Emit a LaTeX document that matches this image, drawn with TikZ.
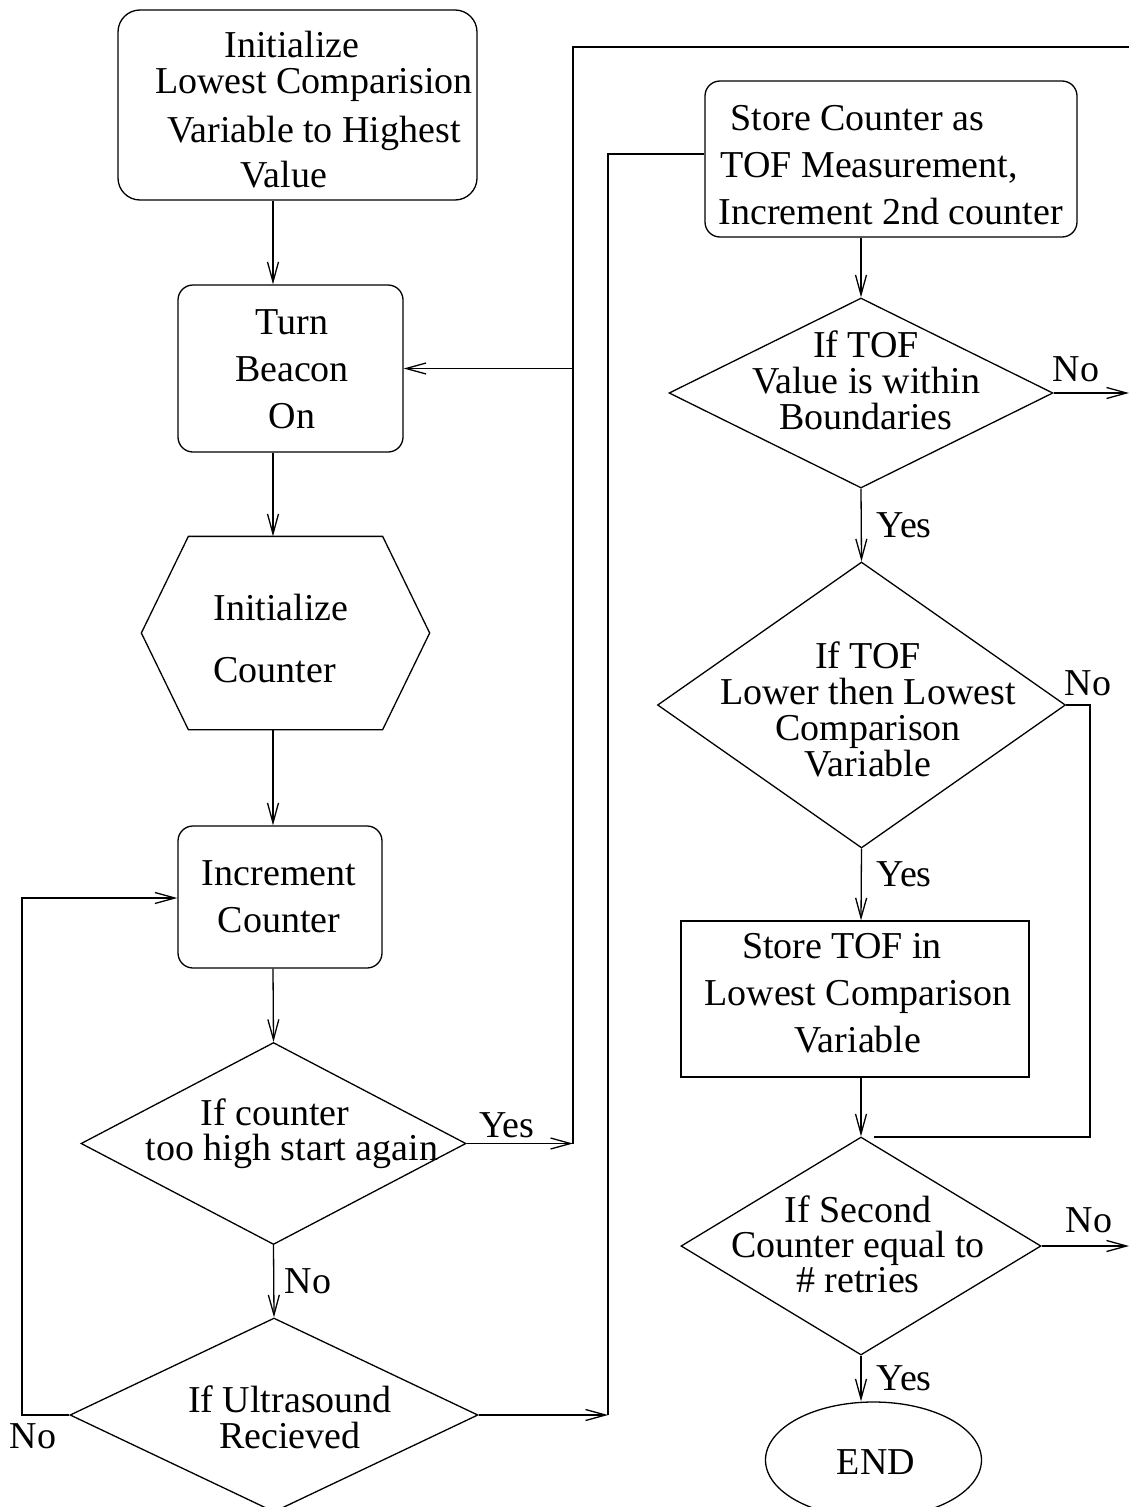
\documentclass[tikz,border=0pt]{standalone}
\usepackage{fontspec}
\setmainfont{Liberation Serif}
\usetikzlibrary{arrows.meta,shapes.geometric}
\begin{document}
\begin{tikzpicture}[x=1pt,y=-1pt,line width=1.3pt,
  >={Straight Barb[length=20pt,width=11pt]},
  shp/.style={draw,inner sep=0pt},
  rbox/.style={shp,rectangle,rounded corners=15pt},
  sbox/.style={shp,rectangle},
  dec/.style={shp,diamond},
  hexa/.style={inner sep=0pt,rectangle},
  txt/.style={inner sep=0pt,anchor=base,align=center},
  lab/.style={inner sep=0pt,anchor=base,font=\fontsize{38pt}{38pt}\selectfont},
  fa/.style={font=\fontsize{38pt}{36pt}\selectfont},
  fb/.style={font=\fontsize{38pt}{47pt}\selectfont}]
\useasboundingbox (0,0) rectangle (1129,1507);
\coordinate (colL) at (273,0);
\coordinate (colR) at (861,0);
% shapes
\node[rbox,rounded corners=22pt,minimum width=359pt,minimum height=190pt] (n1) at (297.5,105) {};
\node[rbox,minimum width=225pt,minimum height=167pt] (n2) at (290.5,368.5) {};
\node[hexa,minimum width=287pt,minimum height=192pt] (n3) at (285.5,633) {};
\draw ([xshift=47pt]n3.north west) -- ([xshift=-47pt]n3.north east) -- (n3.east)
  -- ([xshift=-47pt]n3.south east) -- ([xshift=47pt]n3.south west) -- (n3.west) -- cycle;
\node[rbox,minimum width=204pt,minimum height=142pt] (n4) at (280,897) {};
\node[dec,minimum width=385pt,minimum height=202pt] (n5) at (273.5,1143.5) {};
\node[dec,minimum width=408pt,minimum height=194pt] (n6) at (274,1415) {};
\node[rbox,minimum width=372pt,minimum height=156pt] (n7) at (891,159) {};
\node[dec,minimum width=384pt,minimum height=190pt] (n8) at (861,393) {};
\node[dec,minimum width=408pt,minimum height=286pt] (n9) at (861.5,705) {};
\node[sbox,minimum width=348pt,minimum height=156pt] (n10) at (855,999) {};
\node[dec,minimum width=360pt,minimum height=218pt] (n11) at (861,1246) {};
\node[shp,ellipse,minimum width=216pt,minimum height=116pt] (nend) at (873.5,1460) {};
% texts (anchor base = baseline of last line)
\node[txt,fa] (t1) at (314,187) {Initialize\hspace*{44pt}\\Lowest Comparision\\[13pt]Variable to Highest\\[9pt]Value\hspace*{60pt}};
\node[txt,fb] (t2) at (292,428) {Turn\\Beacon\\On};
\node[inner sep=0pt,anchor=base west,align=left,font=\fontsize{38pt}{62pt}\selectfont] (t3) at (213,682) {Initialize\\Counter};
\node[txt,fb] (t4) at (279,932) {Increment\\Counter};
\node[txt,font=\fontsize{38pt}{35pt}\selectfont] (t5) at (292,1160) {If counter\hspace*{34pt}\\too high start again};
\node[txt,fa] (t6) at (290,1448) {If Ultrasound\\Recieved};
\node[inner sep=0pt,anchor=base west,align=left,font=\fontsize{38pt}{47pt}\selectfont] (t7) at (718,224) {\hspace*{12pt}Store Counter as\\\hspace*{2pt}TOF Measurement,\\Increment 2nd counter};
\node[txt,fa] (t8) at (866,429) {If TOF\\Value is within\\Boundaries};
\node[txt,fa] (t9) at (868,776) {If TOF\\Lower then Lowest\\Comparison\\Variable};
\node[txt,fb] (t10) at (858,1052) {Store TOF in\hspace*{32pt}\\Lowest Comparison\\Variable};
\node[txt,font=\fontsize{38pt}{35pt}\selectfont] (t11) at (858,1292) {If Second\\Counter equal to\\\# retries};
\node[txt,fa] (tend) at (876,1474) {END};
% labels
\node[lab] (y5) at (507,1137) {Yes};
\node[lab] (no5) at (308,1293) {No};
\node[lab] (no6) at (33,1448) {No};
\node[lab] (no8) at (1076,381) {No};
\node[lab] (y8) at (904,537) {Yes};
\node[lab] (no9) at (1088,695) {No};
\node[lab] (y9) at (904,886) {Yes};
\node[lab] (no11) at (1089,1232) {No};
\node[lab] (y11) at (904,1390) {Yes};
% junctions
\coordinate (jY) at (573,1143.5);
\coordinate (jTop) at (573,47);
\coordinate (eTop) at (1129,47);
\coordinate (jL) at (22,1415);
\coordinate (jL2) at (22,898);
\coordinate (jR) at (608,1415);
\coordinate (jR2) at (608,154);
\coordinate (eNo8) at (1129,393);
\coordinate (jN9) at (1090,705);
\coordinate (jN9b) at (1090,1137);
\coordinate (jN9c) at (874,1137);
\coordinate (eNo11) at (1129,1246);
% connectors left column
\draw[->] (n1.south -| colL) -- (n2.north -| colL);
\draw[->] (n2.south -| colL) -- (n3.north -| colL);
\draw[->] (n3.south -| colL) -- (n4.north -| colL);
\draw[->] (n4.south -| colL) -- (n5.north);
\draw[->] (n5.south) -- (n6.north);
\draw[->] (n5.east) -- (jY);
\draw (jY) -- (jTop) -- (eTop);
\draw[->] (n2.east -| jY) -- (n2.east);
\draw[->] (n6.west) -- (jL) -- (jL2) -- (n4.west |- jL2);
\draw[->] (n6.east) -- (jR);
\draw (jR) -- (jR2) -- (n7.west |- jR2);
% connectors right column
\draw[->] (n7.south -| colR) -- (n8.north);
\draw[->] (n8.east) -- (eNo8);
\draw[->] (n8.south) -- (n9.north);
\draw (n9.east) -- (jN9) -- (jN9b) -- (jN9c);
\draw[->] (n9.south) -- (n10.north -| colR);
\draw[->] (n10.south -| colR) -- (n11.north);
\draw[->] (n11.east) -- (eNo11);
\draw[->] (n11.south) -- (nend.north -| colR);
\end{tikzpicture}
\end{document}
